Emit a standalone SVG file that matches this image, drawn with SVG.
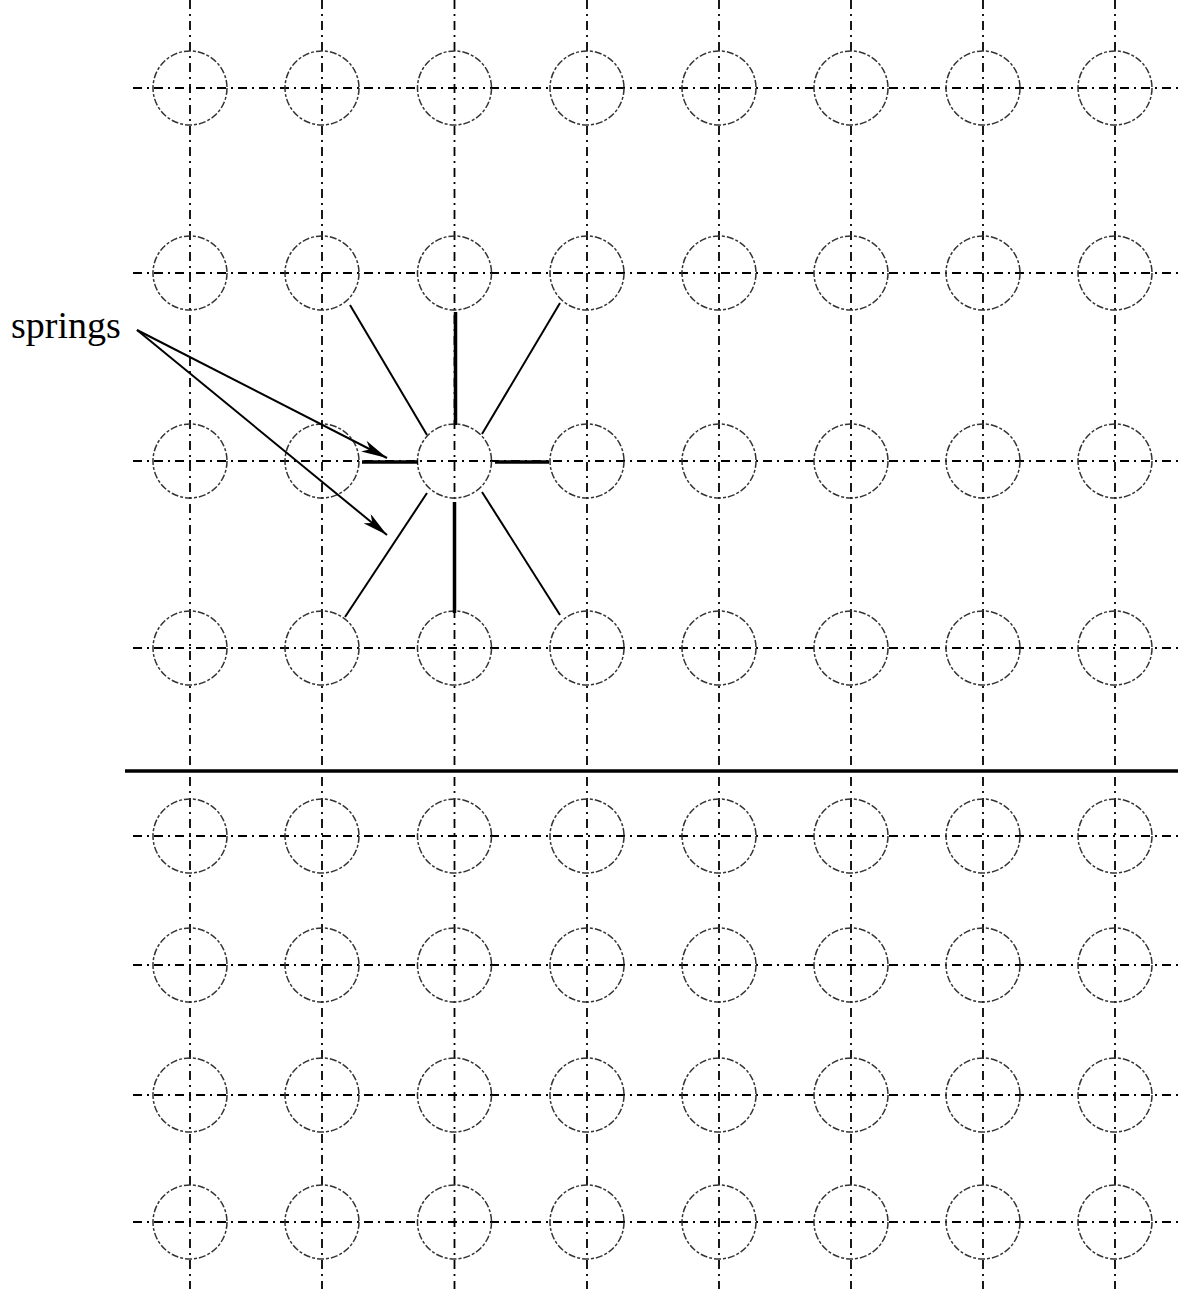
<svg xmlns="http://www.w3.org/2000/svg" width="1188" height="1289" viewBox="0 0 1188 1289">
<style>
.g{stroke:#000;stroke-width:1.8;stroke-dasharray:9 5 2 5;fill:none}
.c{stroke:#333;stroke-width:1.5;stroke-dasharray:7 2 3 2;fill:none}
.s{stroke:#000;fill:none}
.a{stroke:#000;stroke-width:2;fill:none}
text{font-family:"Liberation Serif","Times New Roman",serif;font-size:38px;fill:#000}
</style>
<defs>
<marker id="ah" viewBox="0 0 26 12" refX="26" refY="6" markerWidth="26" markerHeight="12" markerUnits="userSpaceOnUse" orient="auto">
<path d="M0,0 L26,6 L0,12 L7,6 Z" fill="#000"/>
</marker>
</defs>
<rect width="1188" height="1289" fill="#fff"/>
<g id="grid">
<line class="g" x1="190" y1="0" x2="190" y2="1289"/>
<line class="g" x1="322" y1="0" x2="322" y2="1289"/>
<line class="g" x1="454.5" y1="0" x2="454.5" y2="1289"/>
<line class="g" x1="587" y1="0" x2="587" y2="1289"/>
<line class="g" x1="719" y1="0" x2="719" y2="1289"/>
<line class="g" x1="851" y1="0" x2="851" y2="1289"/>
<line class="g" x1="983" y1="0" x2="983" y2="1289"/>
<line class="g" x1="1115" y1="0" x2="1115" y2="1289"/>
<line class="g" x1="133" y1="88" x2="1178" y2="88"/>
<line class="g" x1="133" y1="273" x2="1178" y2="273"/>
<line class="g" x1="133" y1="461" x2="1178" y2="461"/>
<line class="g" x1="133" y1="648" x2="1178" y2="648"/>
<line class="g" x1="133" y1="836" x2="1178" y2="836"/>
<line class="g" x1="133" y1="965" x2="1178" y2="965"/>
<line class="g" x1="133" y1="1095" x2="1178" y2="1095"/>
<line class="g" x1="133" y1="1222" x2="1178" y2="1222"/>
</g>
<g id="particles">
<g id="r1">
<circle class="c" cx="190" cy="88" r="37"/><circle class="c" cx="322" cy="88" r="37"/><circle class="c" cx="454.5" cy="88" r="37"/><circle class="c" cx="587" cy="88" r="37"/><circle class="c" cx="719" cy="88" r="37"/><circle class="c" cx="851" cy="88" r="37"/><circle class="c" cx="983" cy="88" r="37"/><circle class="c" cx="1115" cy="88" r="37"/>
</g>
<g id="r2">
<circle class="c" cx="190" cy="273" r="37"/><circle class="c" cx="322" cy="273" r="37"/><circle class="c" cx="454.5" cy="273" r="37"/><circle class="c" cx="587" cy="273" r="37"/><circle class="c" cx="719" cy="273" r="37"/><circle class="c" cx="851" cy="273" r="37"/><circle class="c" cx="983" cy="273" r="37"/><circle class="c" cx="1115" cy="273" r="37"/>
</g>
<g id="r3">
<circle class="c" cx="190" cy="461" r="37"/><circle class="c" cx="322" cy="461" r="37"/><circle class="c" cx="454.5" cy="461" r="37"/><circle class="c" cx="587" cy="461" r="37"/><circle class="c" cx="719" cy="461" r="37"/><circle class="c" cx="851" cy="461" r="37"/><circle class="c" cx="983" cy="461" r="37"/><circle class="c" cx="1115" cy="461" r="37"/>
</g>
<g id="r4">
<circle class="c" cx="190" cy="648" r="37"/><circle class="c" cx="322" cy="648" r="37"/><circle class="c" cx="454.5" cy="648" r="37"/><circle class="c" cx="587" cy="648" r="37"/><circle class="c" cx="719" cy="648" r="37"/><circle class="c" cx="851" cy="648" r="37"/><circle class="c" cx="983" cy="648" r="37"/><circle class="c" cx="1115" cy="648" r="37"/>
</g>
<g id="r5">
<circle class="c" cx="190" cy="836" r="37"/><circle class="c" cx="322" cy="836" r="37"/><circle class="c" cx="454.5" cy="836" r="37"/><circle class="c" cx="587" cy="836" r="37"/><circle class="c" cx="719" cy="836" r="37"/><circle class="c" cx="851" cy="836" r="37"/><circle class="c" cx="983" cy="836" r="37"/><circle class="c" cx="1115" cy="836" r="37"/>
</g>
<g id="r6">
<circle class="c" cx="190" cy="965" r="37"/><circle class="c" cx="322" cy="965" r="37"/><circle class="c" cx="454.5" cy="965" r="37"/><circle class="c" cx="587" cy="965" r="37"/><circle class="c" cx="719" cy="965" r="37"/><circle class="c" cx="851" cy="965" r="37"/><circle class="c" cx="983" cy="965" r="37"/><circle class="c" cx="1115" cy="965" r="37"/>
</g>
<g id="r7">
<circle class="c" cx="190" cy="1095" r="37"/><circle class="c" cx="322" cy="1095" r="37"/><circle class="c" cx="454.5" cy="1095" r="37"/><circle class="c" cx="587" cy="1095" r="37"/><circle class="c" cx="719" cy="1095" r="37"/><circle class="c" cx="851" cy="1095" r="37"/><circle class="c" cx="983" cy="1095" r="37"/><circle class="c" cx="1115" cy="1095" r="37"/>
</g>
<g id="r8">
<circle class="c" cx="190" cy="1222" r="37"/><circle class="c" cx="322" cy="1222" r="37"/><circle class="c" cx="454.5" cy="1222" r="37"/><circle class="c" cx="587" cy="1222" r="37"/><circle class="c" cx="719" cy="1222" r="37"/><circle class="c" cx="851" cy="1222" r="37"/><circle class="c" cx="983" cy="1222" r="37"/><circle class="c" cx="1115" cy="1222" r="37"/>
</g>
</g>
<g id="wall">
<line x1="125" y1="771" x2="1178" y2="771" stroke="#000" stroke-width="3.5"/>
</g>
<g id="springs">
<line class="s" stroke-width="3.5" x1="362" y1="462" x2="418" y2="462"/>
<line class="s" stroke-width="3.5" x1="495" y1="462" x2="549" y2="462"/>
<line class="s" stroke-width="3.5" x1="455.5" y1="312" x2="455.5" y2="425"/>
<line class="s" stroke-width="3.5" x1="454.5" y1="502" x2="454.5" y2="613"/>
<line class="s" stroke-width="2" x1="350" y1="305" x2="427" y2="435"/>
<line class="s" stroke-width="2" x1="560" y1="303" x2="482" y2="434"/>
<line class="s" stroke-width="2" x1="427" y1="493" x2="345" y2="617"/>
<line class="s" stroke-width="2" x1="482" y1="492" x2="560" y2="615"/>
</g>
<g id="label">
<text x="11" y="338">springs</text>
<line class="a" x1="137" y1="330" x2="387" y2="458" marker-end="url(#ah)"/>
<line class="a" x1="137" y1="330" x2="387" y2="535" marker-end="url(#ah)"/>
</g>
</svg>
